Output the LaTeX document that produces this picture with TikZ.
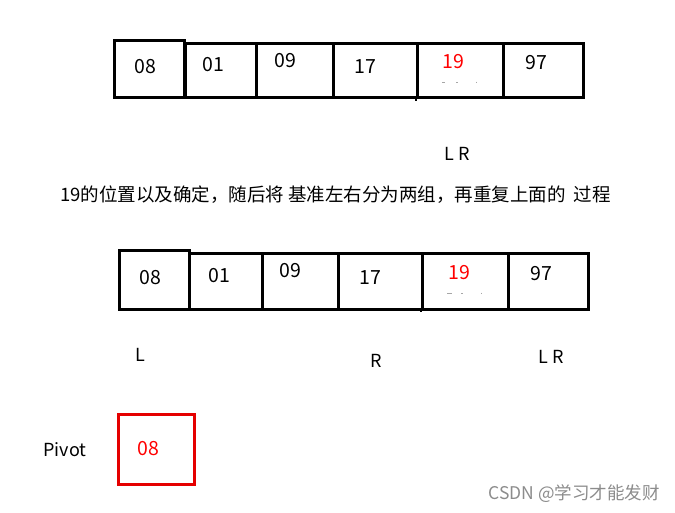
\documentclass[tikz,border=0pt]{standalone}
\usepackage{fontspec}
\setmainfont{Noto Sans CJK SC}
\begin{document}
\begin{tikzpicture}[x=1pt,y=-1pt,
  cell/.style={draw=black,line width=2.6pt,minimum width=#1,inner sep=0pt,anchor=north west},
  num/.style={font=\fontsize{19.5}{21}\selectfont,inner sep=0pt},
  lbl/.style={font=\fontsize{18}{20}\selectfont,inner sep=0pt},
  hl/.style={text=red},
  speck/.style={draw=black!35,line width=1pt}]
\useasboundingbox (0,0) rectangle (675,512);
\fill[white] (0,0) rectangle (675,512);
% ---- top row
\node[cell=70pt,minimum height=57pt] (a1) at (113,39) {};
\node[cell=71pt,minimum height=54pt] (a2) at (184,42) {};
\node[cell=77pt,minimum height=54pt] (a3) at (255,42) {};
\node[cell=84pt,minimum height=54pt] (a4) at (332,42) {};
\node[cell=86pt,minimum height=54pt] (a5) at (416,42) {};
\node[cell=80pt,minimum height=54pt] (a6) at (502,42) {};
\coordinate (a5b) at (416,101);
\draw[line width=2.6pt] (a5.south west) -- (a5b);
\node[num] (ta1) at (145,67) {08};
\node[num] (ta2) at (213,65) {01};
\node[num] (ta3) at (285,61) {09};
\node[num] (ta4) at (365,67) {17};
\node[num,hl] (ta5) at (453,62) {19};
\node[num] (ta6) at (536,63) {97};
\draw[speck] (442,82) -- (445,82) (456,82) -- (458,82) (476,81.5) -- (476,83);
\node[lbl] (lr1) at (457,154) {L R};
% ---- sentence
\node[font=\fontsize{18.5}{20}\selectfont,inner sep=0pt] (txt) at (335.5,195) {19的位置以及确定，随后将 基准左右分为两组，再重复上面的\ \ 过程};
% ---- bottom row
\node[cell=70pt,minimum height=59pt] (b1) at (118,249) {};
\node[cell=73pt,minimum height=56pt] (b2) at (188,252) {};
\node[cell=76pt,minimum height=56pt] (b3) at (261,252) {};
\node[cell=84pt,minimum height=56pt] (b4) at (337,252) {};
\node[cell=86pt,minimum height=56pt] (b5) at (421,252) {};
\node[cell=80pt,minimum height=56pt] (b6) at (507,252) {};
\coordinate (b5b) at (421,312);
\draw[line width=2.6pt] (b5.south west) -- (b5b);
\node[num] (tb1) at (150,278) {08};
\node[num] (tb2) at (219,276) {01};
\node[num] (tb3) at (290,271) {09};
\node[num] (tb4) at (370,278) {17};
\node[num,hl] (tb5) at (459,273) {19};
\node[num] (tb6) at (541,274) {97};
\draw[speck] (447,293) -- (452,293) (461,293) -- (463,293) (481,292.5) -- (481,294);
\node[lbl] (l2) at (140,355) {L};
\node[lbl] (r2) at (376,361) {R};
\node[lbl] (lr2) at (551,357) {L R};
% ---- pivot
\node[lbl] (pv) at (65,450) {Pivot};
\node[draw=red!90!black,line width=2.6pt,minimum width=76pt,minimum height=70pt,inner sep=0pt,anchor=north west] (pbox) at (117,413) {};
\node[num,hl] (pn) at (148,449) {08};
% ---- watermark
\node[font=\fontsize{17.5}{19}\selectfont,text=black!45,inner sep=0pt] (wm) at (574,494) {CSDN @学习才能发财};
\end{tikzpicture}
\end{document}
